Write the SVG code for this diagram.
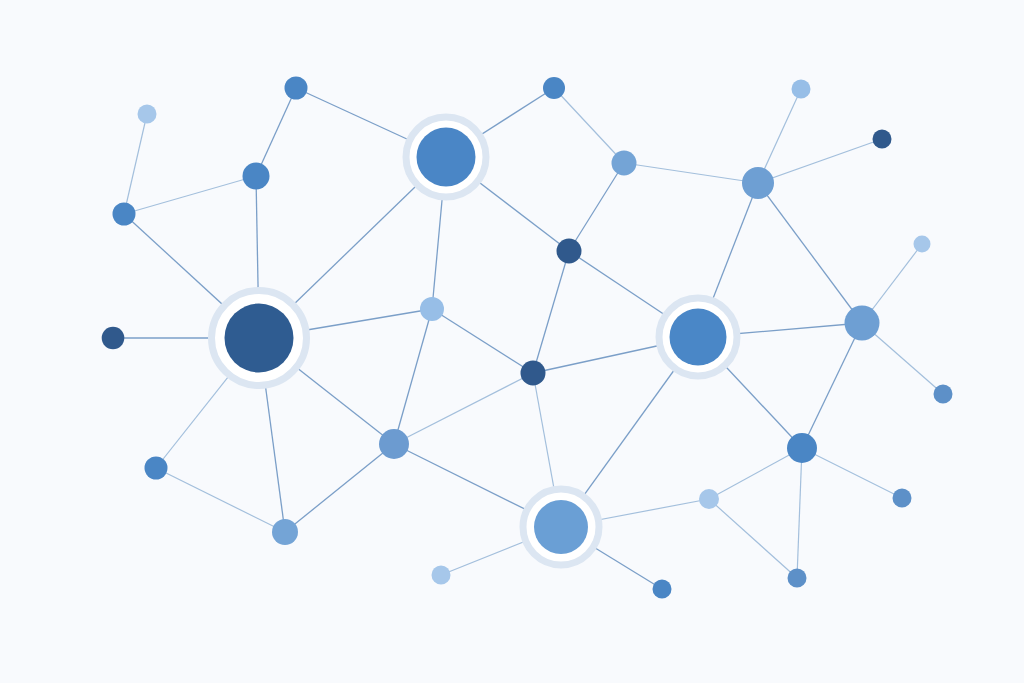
<svg xmlns="http://www.w3.org/2000/svg" width="1024" height="683" viewBox="0 0 1024 683">
<style>
.e{stroke:#7b9fc8;stroke-width:1.3;fill:none}
.l{stroke:#a3bfdc;stroke-width:1.2;fill:none}
.halo{fill:#ffffff;stroke:#dce6f2;stroke-width:7}
.dk{fill:#30598c}
.md{fill:#4a86c5}
.mm{fill:#5d90c8}
.ml{fill:#74a4d6}
.lt{fill:#a6c7ea}
</style>
<rect width="1024" height="683" fill="#f8fafd"/>
<g id="connectors">
<line class="e" x1="296" y1="88" x2="446" y2="157"/>
<line class="e" x1="296" y1="88" x2="256" y2="176"/>
<line class="l" x1="147" y1="114" x2="124" y2="214"/>
<line class="l" x1="124" y1="214" x2="256" y2="176"/>
<line class="e" x1="124" y1="214" x2="259" y2="338"/>
<line class="e" x1="256" y1="176" x2="259" y2="338"/>
<line class="e" x1="113" y1="338" x2="259" y2="338"/>
<line class="e" x1="259" y1="338" x2="446" y2="157"/>
<line class="e" x1="259" y1="338" x2="432" y2="309"/>
<line class="l" x1="259" y1="338" x2="156" y2="468"/>
<line class="e" x1="259" y1="338" x2="285" y2="532"/>
<line class="e" x1="259" y1="338" x2="394" y2="444"/>
<line class="l" x1="285" y1="532" x2="156" y2="468"/>
<line class="e" x1="285" y1="532" x2="394" y2="444"/>
<line class="e" x1="394" y1="444" x2="432" y2="309"/>
<line class="l" x1="394" y1="444" x2="533" y2="373"/>
<line class="e" x1="394" y1="444" x2="561" y2="527"/>
<line class="e" x1="432" y1="309" x2="446" y2="157"/>
<line class="e" x1="432" y1="309" x2="533" y2="373"/>
<line class="e" x1="446" y1="157" x2="554" y2="88"/>
<line class="e" x1="446" y1="157" x2="569" y2="251"/>
<line class="l" x1="554" y1="88" x2="624" y2="163"/>
<line class="e" x1="624" y1="163" x2="569" y2="251"/>
<line class="l" x1="624" y1="163" x2="758" y2="183"/>
<line class="e" x1="569" y1="251" x2="533" y2="373"/>
<line class="e" x1="569" y1="251" x2="698" y2="337"/>
<line class="e" x1="533" y1="373" x2="698" y2="337"/>
<line class="l" x1="533" y1="373" x2="561" y2="527"/>
<line class="e" x1="698" y1="337" x2="758" y2="183"/>
<line class="e" x1="698" y1="337" x2="862" y2="323"/>
<line class="e" x1="698" y1="337" x2="802" y2="448"/>
<line class="e" x1="698" y1="337" x2="561" y2="527"/>
<line class="l" x1="758" y1="183" x2="801" y2="89"/>
<line class="l" x1="758" y1="183" x2="882" y2="139"/>
<line class="e" x1="758" y1="183" x2="862" y2="323"/>
<line class="l" x1="862" y1="323" x2="922" y2="244"/>
<line class="l" x1="862" y1="323" x2="943" y2="394"/>
<line class="e" x1="862" y1="323" x2="802" y2="448"/>
<line class="l" x1="802" y1="448" x2="902" y2="498"/>
<line class="l" x1="802" y1="448" x2="709" y2="499"/>
<line class="l" x1="802" y1="448" x2="797" y2="578"/>
<line class="l" x1="709" y1="499" x2="797" y2="578"/>
<line class="l" x1="709" y1="499" x2="561" y2="527"/>
<line class="l" x1="561" y1="527" x2="441" y2="575"/>
<line class="e" x1="561" y1="527" x2="662" y2="589"/>
</g>
<g id="hub1"><circle class="halo" cx="259" cy="338" r="47.5"/><circle cx="259" cy="338" r="34.5" fill="#2f5c91"/></g>
<g id="hub2"><circle class="halo" cx="446" cy="157" r="40"/><circle cx="446" cy="157" r="29.5" fill="#4a86c6"/></g>
<g id="hub3"><circle class="halo" cx="698" cy="337" r="39"/><circle cx="698" cy="337" r="28.5" fill="#4a87c7"/></g>
<g id="hub4"><circle class="halo" cx="561" cy="527" r="38"/><circle cx="561" cy="527" r="27" fill="#6a9fd5"/></g>
<g id="n1"><circle class="md" cx="296" cy="88" r="11.5"/></g>
<g id="n2"><circle class="lt" cx="147" cy="114" r="9.5"/></g>
<g id="n3"><circle class="md" cx="256" cy="176" r="13.5"/></g>
<g id="n4"><circle class="md" cx="124" cy="214" r="11.5"/></g>
<g id="n5"><circle class="dk" cx="113" cy="338" r="11.3"/></g>
<g id="n6"><circle class="md" cx="156" cy="468" r="11.5"/></g>
<g id="n7"><circle class="ml" cx="285" cy="532" r="13"/></g>
<g id="n8"><circle fill="#6c9bd0" cx="394" cy="444" r="15"/></g>
<g id="n9"><circle fill="#97bee7" cx="432" cy="309" r="12"/></g>
<g id="n10"><circle class="dk" cx="533" cy="373" r="12.5"/></g>
<g id="n11"><circle class="dk" cx="569" cy="251" r="12.5"/></g>
<g id="n12"><circle class="md" cx="554" cy="88" r="11"/></g>
<g id="n13"><circle class="ml" cx="624" cy="163" r="12.5"/></g>
<g id="n14"><circle fill="#6e9fd3" cx="758" cy="183" r="16"/></g>
<g id="n15"><circle fill="#97bee7" cx="801" cy="89" r="9.5"/></g>
<g id="n16"><circle class="dk" cx="882" cy="139" r="9.5"/></g>
<g id="n17"><circle class="lt" cx="922" cy="244" r="8.5"/></g>
<g id="n18"><circle fill="#6e9fd3" cx="862" cy="323" r="17.5"/></g>
<g id="n19"><circle class="mm" cx="943" cy="394" r="9.5"/></g>
<g id="n20"><circle class="md" cx="802" cy="448" r="15"/></g>
<g id="n21"><circle class="mm" cx="902" cy="498" r="9.5"/></g>
<g id="n22"><circle class="lt" cx="709" cy="499" r="10"/></g>
<g id="n23"><circle class="mm" cx="797" cy="578" r="9.5"/></g>
<g id="n24"><circle class="md" cx="662" cy="589" r="9.5"/></g>
<g id="n25"><circle class="lt" cx="441" cy="575" r="9.5"/></g>
</svg>
